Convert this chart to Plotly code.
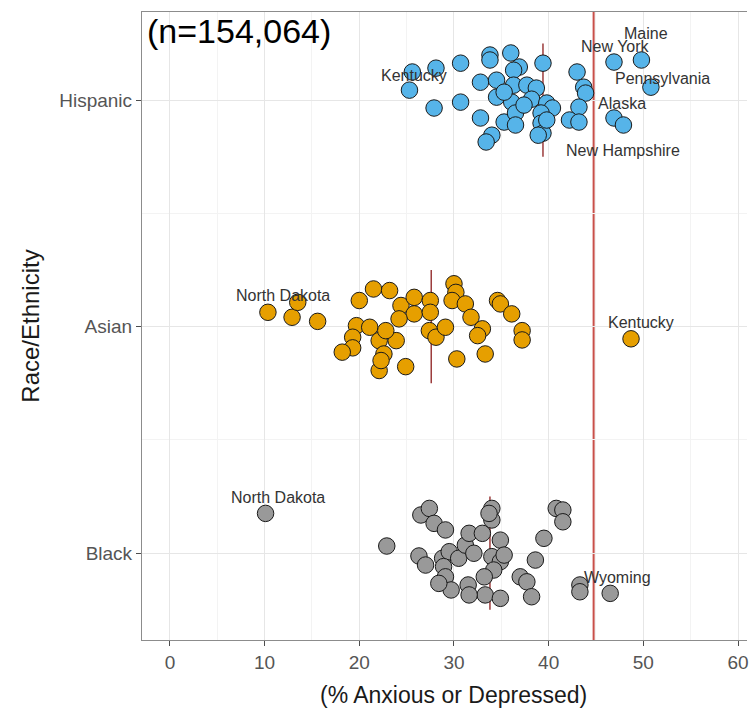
import plotly.graph_objects as go

# Share of adults reporting anxiety or depression, by state, within each group
groups = ["Black", "Asian", "Hispanic"]
group_colors = ["#999999", "#E69F00", "#56B4E9"]

hispanic_pct = [25.6, 25.3, 28.1, 30.7, 27.9, 30.7, 33.8, 33.8, 36.0, 36.9, 36.3, 32.8,
                34.5, 36.3, 37.7, 38.7, 34.5, 36.1, 38.2, 39.8, 40.4, 32.8, 35.3, 36.5,
                36.5, 39.2, 39.2, 39.4, 38.9, 39.4, 43.0, 43.7, 43.9, 43.2, 42.2, 43.2,
                34.0, 33.4, 46.9, 49.8, 50.8, 46.9, 47.9, 35.3, 37.4, 39.8]
hispanic_jitter = [0.124, 0.044, 0.141, 0.163, -0.035, -0.009, 0.199, 0.177, 0.208, 0.146,
                   0.132, 0.079, 0.088, 0.066, 0.066, 0.053, 0.013, -0.009, 0.004, -0.013,
                   -0.035, -0.079, -0.097, -0.057, -0.110, -0.057, -0.102, -0.146, -0.155,
                   0.163, 0.124, 0.057, 0.031, -0.031, -0.088, -0.097, -0.155, -0.185, 0.168,
                   0.177, 0.057, -0.079, -0.110, 0.035, -0.022, -0.088]

asian_pct = [10.35, 12.9, 13.5, 15.6, 20.0, 21.5, 23.2, 24.4, 25.8, 25.8, 24.2, 19.7,
             21.1, 19.3, 19.3, 18.2, 22.1, 23.9, 22.6, 22.1, 24.9, 27.5, 27.5, 27.4,
             28.1, 29.1, 30.0, 30.2, 29.8, 31.2, 31.8, 33.0, 32.5, 33.3, 30.3, 34.6,
             34.9, 36.1, 37.2, 37.2, 48.7, 22.8, 22.3]
asian_jitter = [0.063, 0.041, 0.107, 0.023, 0.115, 0.166, 0.159, 0.093, 0.129, 0.056,
                0.034, 0.004, -0.003, -0.047, -0.094, -0.113, -0.062, -0.062, -0.121,
                -0.194, -0.177, 0.115, 0.063, -0.018, -0.047, -0.003, 0.189, 0.151, 0.115,
                0.100, 0.041, -0.010, -0.040, -0.121, -0.143, 0.115, 0.100, 0.056, -0.018,
                -0.059, -0.054, -0.018, -0.150]

black_pct = [10.1, 22.9, 26.5, 27.4, 27.9, 29.1, 26.3, 27.0, 28.8, 29.5, 28.9, 29.1,
             29.7, 30.5, 31.2, 31.6, 32.1, 33.0, 34.0, 34.0, 33.7, 34.9, 34.0, 34.9,
             35.3, 34.2, 33.2, 33.3, 34.9, 31.5, 31.6, 38.6, 39.5, 37.0, 37.7, 38.2,
             40.8, 41.5, 41.5, 43.3, 43.3, 46.5, 28.4]
black_jitter = [0.175, 0.031, 0.168, 0.197, 0.131, 0.102, -0.013, -0.053, -0.023, 0.006,
                -0.060, -0.105, -0.163, -0.023, 0.035, 0.087, -0.001, 0.087, 0.197, 0.146,
                0.175, 0.057, -0.016, -0.038, -0.009, -0.075, -0.105, -0.185, -0.200,
                -0.141, -0.185, -0.031, 0.065, -0.105, -0.127, -0.193, 0.197, 0.190, 0.138,
                -0.141, -0.171, -0.178, -0.134]

group_medians = [33.8, 27.6, 39.4]
overall_rate = 44.75

# State labels: group, point index, name, pixel offset of the label from its point
state_labels = [
    ("Hispanic", 0, "Kentucky", 2, -3),
    ("Hispanic", 38, "New York", 2, 16),
    ("Hispanic", 39, "Maine", 5, 27),
    ("Hispanic", 40, "Pennsylvania", 12, 9),
    ("Hispanic", 41, "Alaska", 8, 14),
    ("Hispanic", 42, "New Hampshire", 0, -25),
    ("Asian", 0, "North Dakota", 15, 17),
    ("Asian", 40, "Kentucky", 10, 16),
    ("Black", 0, "North Dakota", 12, 16),
    ("Black", 39, "Wyoming", 38, 7),
]

series = {
    "Black": (black_pct, black_jitter),
    "Asian": (asian_pct, asian_jitter),
    "Hispanic": (hispanic_pct, hispanic_jitter),
}

FONT = "Liberation Sans, Arial, sans-serif"

fig = go.Figure()

# Median segment for each group, drawn beneath the points
for pos, (g, med) in enumerate(zip(groups, group_medians), start=1):
    fig.add_trace(go.Scatter(
        x=[med, med], y=[pos - 0.25, pos + 0.25], mode="lines",
        line=dict(color="#9b3b3b", width=1.5), hoverinfo="skip", showlegend=False,
    ))

for pos, (g, col) in enumerate(zip(groups, group_colors), start=1):
    pct, jit = series[g]
    fig.add_trace(go.Scatter(
        x=pct, y=[pos + j for j in jit], mode="markers", name=g, showlegend=False,
        marker=dict(size=16.5, color=col, line=dict(color="#1a1a1a", width=1)),
    ))

fig.add_shape(type="line", x0=overall_rate, x1=overall_rate, y0=0, y1=1,
              xref="x", yref="paper", layer="below",
              line=dict(color="#c8504a", width=2))

for g, idx, name, dx, dy in state_labels:
    pct, jit = series[g]
    pos = groups.index(g) + 1
    fig.add_annotation(x=pct[idx], y=pos + jit[idx], text=name, showarrow=False,
                       xshift=dx, yshift=dy,
                       font=dict(family=FONT, size=16, color="#333333"))

fig.add_annotation(x=0, y=1, xref="paper", yref="paper", xanchor="left", yanchor="top",
                   text="(n=154,064)", showarrow=False, xshift=3, yshift=2,
                   font=dict(family=FONT, size=34, color="#000000"))

# x-axis title centred under the full panel
fig.add_annotation(x=29.9, y=0, xref="x", yref="paper", xanchor="center", yanchor="top",
                   text="(% Anxious or Depressed)", showarrow=False, yshift=-40,
                   font=dict(family=FONT, size=23, color="#1a1a1a"))

fig.update_layout(
    width=749, height=710,
    margin=dict(l=142, r=0, t=12, b=70),
    plot_bgcolor="white", paper_bgcolor="white",
    font=dict(family=FONT),
    xaxis=dict(
        range=[-2.95, 60.95], tickmode="linear", tick0=0, dtick=10,
        showgrid=True, gridcolor="#e6e6e6", gridwidth=1,
        minor=dict(dtick=5, tick0=0, showgrid=True, gridcolor="#f3f3f3", ticks=""),
        zeroline=False, showline=True, linecolor="#8c8c8c", linewidth=1.2, mirror=True,
        ticks="outside", ticklen=5, tickcolor="#4d4d4d", ticklabeloverflow="allow",
        tickfont=dict(size=19, color="#555555"),
    ),
    yaxis=dict(
        range=[0.616, 3.389], tickmode="array", tickvals=[1, 2, 3], ticktext=groups,
        showgrid=True, gridcolor="#e6e6e6", gridwidth=1,
        minor=dict(dtick=0.5, tick0=0, showgrid=True, gridcolor="#f3f3f3", ticks=""),
        zeroline=False, showline=True, linecolor="#8c8c8c", linewidth=1.2,
        ticks="outside", ticklen=5, tickcolor="#4d4d4d",
        tickfont=dict(size=19, color="#555555"),
        title=dict(text="Race/Ethnicity", font=dict(size=24, color="#1a1a1a"), standoff=12),
    ),
)

fig.write_html("out.html")
